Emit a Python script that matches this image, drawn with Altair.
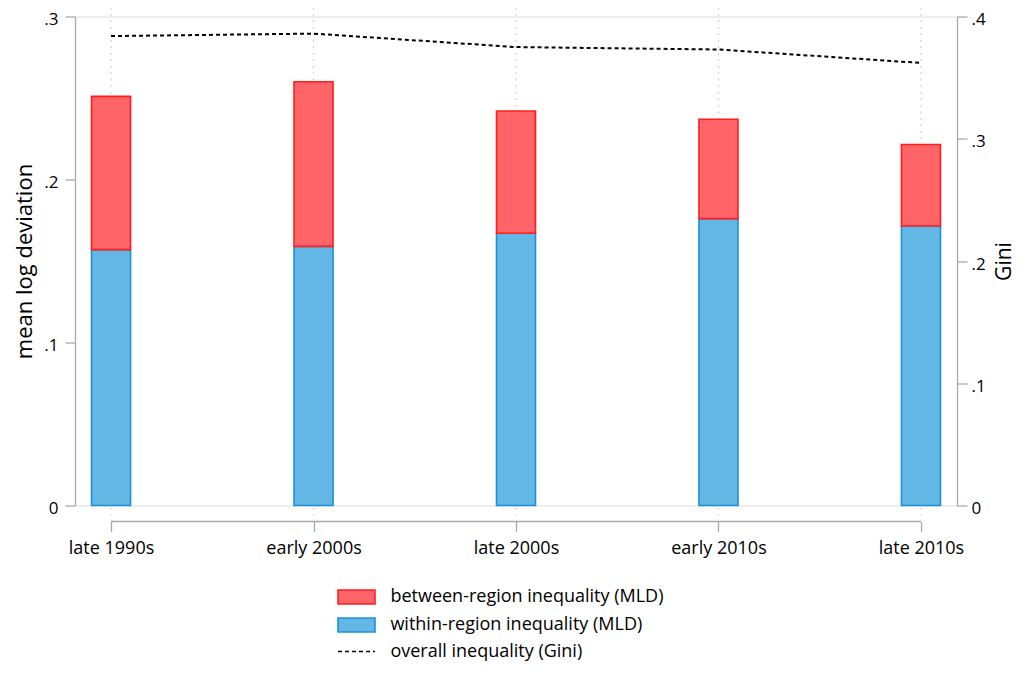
import altair as alt
import pandas as pd

periods = ["late 1990s", "early 2000s", "late 2000s", "early 2010s", "late 2010s"]
within = [0.157, 0.159, 0.167, 0.176, 0.1715]
between = [0.094, 0.101, 0.075, 0.061, 0.050]
gini = [0.384, 0.386, 0.375, 0.373, 0.362]

lab_between = "between-region inequality (MLD)"
lab_within = "within-region inequality (MLD)"
lab_gini = "overall inequality (Gini)"

W, H = 882, 489
FONT = "Open Sans"
AX = "#a9a9a9"

rows = []
for p, w, b in zip(periods, within, between):
    rows.append({"period": p, "component": lab_within, "value": w, "ord": 0})
    rows.append({"period": p, "component": lab_between, "value": b, "ord": 1})
bars_df = pd.DataFrame(rows)
gini_df = pd.DataFrame({"period": periods, "gini": gini, "series": [lab_gini] * len(periods)})
axis_df = pd.DataFrame({"start": [periods[0]], "end": [periods[-1]]})

xscale = alt.Scale(type="point", domain=periods, padding=0.178)
lab_expr = "datum.value == 0 ? '0' : replace(format(datum.value, '.1f'), '0.', '.')"

x_axis = alt.Axis(offset=16, domain=False, ticks=True, tickSize=10, tickColor=AX, tickWidth=1.3,
                  labels=True, labelPadding=8, labelFontSize=18, labelAngle=0, grid=False,
                  labelColor="black", labelFont=FONT, title=None, orient="bottom")

grid = alt.Chart(gini_df).mark_rule(color="#c4c4c4", strokeDash=[1.5, 5], strokeWidth=1.2).encode(
    x=alt.X("period:N", scale=xscale, axis=x_axis),
    y=alt.value(-9),
    y2=alt.value(H + 10),
)

bar_legend = alt.Legend(
    title=None, orient="none", legendX=262, legendY=570.5, padding=0,
    symbolType="M-1,-0.38H1V0.38H-1Z", symbolSize=1369, symbolStrokeWidth=1.6,
    clipHeight=20, rowPadding=8, labelOffset=14.4, labelFontSize=18,
    labelFont=FONT, labelColor="black", labelLimit=400,
)

bars = alt.Chart(bars_df).mark_bar(size=39, strokeWidth=1.6).encode(
    x=alt.X("period:N", scale=xscale, axis=x_axis),
    y=alt.Y("value:Q", stack="zero", scale=alt.Scale(domain=[0, 0.3], nice=False, zero=True),
            axis=alt.Axis(orient="left", values=[0, 0.1, 0.2, 0.3], labelExpr=lab_expr,
                          title="mean log deviation", titleFontSize=22, titleFontWeight="normal",
                          titleAngle=270, titleX=-51, titleY=H / 2, titleAlign="center",
                          titleBaseline="middle", titleColor="black", titleFont=FONT,
                          tickSize=10, tickColor=AX, tickWidth=1.3, domainColor=AX, domainWidth=1.3,
                          labelPadding=7, labelOffset=3, labelFontSize=17, labelColor="black",
                          labelFont=FONT, grid=False)),
    fill=alt.Fill("component:N", scale=alt.Scale(domain=[lab_between, lab_within],
                                                   range=["#ff6468", "#63b7e4"]), legend=bar_legend),
    stroke=alt.Stroke("component:N", scale=alt.Scale(domain=[lab_between, lab_within],
                                                       range=["#ff1e1e", "#1b91d8"]), legend=bar_legend),
    order=alt.Order("ord:Q", sort="ascending"),
)

line = alt.Chart(gini_df).mark_line(color="black", strokeWidth=2).encode(
    x=alt.X("period:N", scale=xscale, axis=x_axis),
    y=alt.Y("gini:Q", scale=alt.Scale(domain=[0, 0.4], nice=False),
            axis=alt.Axis(orient="right", values=[0, 0.1, 0.2, 0.3, 0.4], labelExpr=lab_expr,
                          title="Gini", titleFontSize=21, titleFontWeight="normal",
                          titleAngle=270, titleX=47, titleY=H / 2, titleAlign="center",
                          titleBaseline="middle", titleColor="black", titleFont=FONT,
                          tickSize=10, tickColor=AX, tickWidth=1.3, domainColor=AX, domainWidth=1.3,
                          labelPadding=4, labelOffset=3, labelFontSize=17, labelColor="black",
                          labelFont=FONT, grid=False)),
    strokeDash=alt.StrokeDash("series:N", scale=alt.Scale(domain=[lab_gini], range=[[4, 3]]),
                              legend=alt.Legend(title=None, orient="none", legendX=262, legendY=625,
                                                padding=0, symbolType="stroke", symbolSize=1369,
                                                symbolStrokeWidth=1.5, symbolStrokeColor="black",
                                                symbolDash=[3, 4], clipHeight=20, labelOffset=14.4,
                                                labelFontSize=18, labelFont=FONT, labelColor="black",
                                                labelLimit=400)),
)

xaxis_rule = alt.Chart(axis_df).mark_rule(color=AX, strokeWidth=1.3).encode(
    x=alt.X("start:N", scale=xscale, axis=x_axis),
    x2="end:N",
    y=alt.value(H + 16),
)

chart = alt.layer(grid, bars, line, xaxis_rule).resolve_scale(
    y="independent", fill="independent", stroke="independent", strokeDash="independent"
).properties(
    width=W, height=H,
    autosize=alt.AutoSizeParams(type="none"),
    padding={"left": 67, "top": 8.5, "right": 62, "bottom": 157},
).configure_view(stroke=None).configure(font=FONT)

chart.save("out.html", embed_options={"renderer": "svg", "actions": False})
